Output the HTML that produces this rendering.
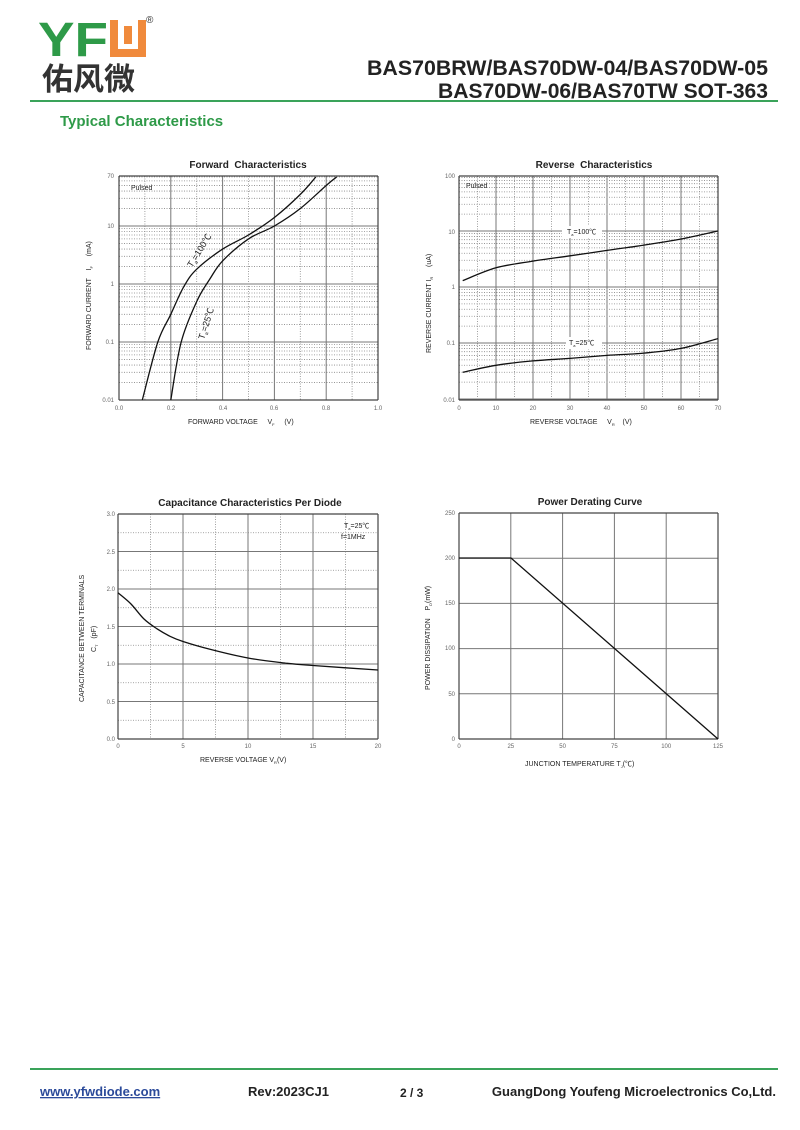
<!DOCTYPE html>
<html><head><meta charset="utf-8"><style>
body{margin:0;background:#fff;}
svg{display:block;font-family:"Liberation Sans","Noto Sans CJK SC",sans-serif;}
svg text{white-space:pre;}
</style></head><body>
<svg id="s" width="800" height="1130" viewBox="0 0 800 1130" xmlns="http://www.w3.org/2000/svg">
<!-- header -->
<text x="38" y="56" font-size="48" font-weight="bold" fill="#2e9a48" textLength="70" lengthAdjust="spacingAndGlyphs">YF</text>
<rect x="110" y="20" width="36" height="37" fill="#f08a3c"/>
<rect x="118" y="20" width="20" height="29" fill="#fff"/>
<rect x="124" y="26" width="8" height="18" fill="#f08a3c"/>
<text x="146" y="23" font-size="10" fill="#333">®</text>
<text x="42" y="90" font-size="31" font-weight="bold" fill="#333" font-family="Noto Sans CJK SC,sans-serif">佑风微</text>
<text x="768" y="75" font-size="21" font-weight="bold" text-anchor="end" fill="#222" textLength="401" lengthAdjust="spacingAndGlyphs">BAS70BRW/BAS70DW-04/BAS70DW-05</text>
<text x="768" y="98" font-size="21" font-weight="bold" text-anchor="end" fill="#222" textLength="330" lengthAdjust="spacingAndGlyphs">BAS70DW-06/BAS70TW SOT-363</text>
<rect x="30" y="100" width="748" height="2" fill="#3aa35a"/>
<text x="60" y="126" font-size="15" font-weight="bold" fill="#2e9a48">Typical Characteristics</text>
<!-- footer -->
<rect x="30" y="1068" width="748" height="2" fill="#3aa35a"/>
<text x="40" y="1096" font-size="13" font-weight="bold" fill="#2b4a9a" text-decoration="underline">www.yfwdiode.com</text>
<text x="248" y="1096" font-size="13" font-weight="bold" fill="#222">Rev:2023CJ1</text>
<text x="400" y="1097" font-size="12" font-weight="bold" fill="#222">2 / 3</text>
<text x="776" y="1096" font-size="13" font-weight="bold" fill="#222" text-anchor="end">GuangDong Youfeng Microelectronics Co,Ltd.</text>
<g id="g"></g>
<!-- titles -->
<g font-weight="bold" font-size="10" fill="#222" text-anchor="middle">
<text x="248" y="168">Forward  Characteristics</text>
<text x="594" y="168">Reverse  Characteristics</text>
<text x="250" y="506">Capacitance Characteristics Per Diode</text>
<text x="590" y="505">Power Derating Curve</text>
</g>
<g font-size="7" fill="#222">
<text x="188" y="424">FORWARD VOLTAGE     V<tspan font-size="4" dy="2">F</tspan><tspan dy="-2">     (V)</tspan></text>
<text x="530" y="424">REVERSE VOLTAGE     V<tspan font-size="4" dy="2">R</tspan><tspan dy="-2">    (V)</tspan></text>
<text x="200" y="762">REVERSE VOLTAGE V<tspan font-size="4" dy="2">R</tspan><tspan dy="-2">(V)</tspan></text>
<text x="525" y="766">JUNCTION TEMPERATURE T<tspan font-size="4" dy="2">J</tspan><tspan dy="-2">(℃)</tspan></text>
<text transform="translate(91,350) rotate(-90)">FORWARD CURRENT    I<tspan font-size="4" dy="2">F</tspan><tspan dy="-2">     (mA)</tspan></text>
<text transform="translate(431,353) rotate(-90)">REVERSE CURRENT I<tspan font-size="4" dy="2">R</tspan><tspan dy="-2">     (uA)</tspan></text>
<text transform="translate(84,702) rotate(-90)">CAPACITANCE BETWEEN TERMINALS</text>
<text transform="translate(96,652) rotate(-90)">C<tspan font-size="4" dy="2">T</tspan><tspan dy="-2">   (pF)</tspan></text>
<text transform="translate(430,690) rotate(-90)">POWER DISSIPATION    P<tspan font-size="4" dy="2">D</tspan><tspan dy="-2">(mW)</tspan></text>
<text x="131" y="190">Pulsed</text>
<text x="466" y="188">Pulsed</text>
<text x="344" y="528">T<tspan font-size="4" dy="2">a</tspan><tspan dy="-2">=25℃</tspan></text>
<text x="341" y="539">f=1MHz</text>
</g>
<g font-size="6" fill="#666">
<text x="114" y="178" text-anchor="end">70</text><text x="114" y="228" text-anchor="end">10</text><text x="114" y="286" text-anchor="end">1</text><text x="114" y="344" text-anchor="end">0.1</text><text x="114" y="402" text-anchor="end">0.01</text>
<text x="119" y="410" text-anchor="middle">0.0</text><text x="171" y="410" text-anchor="middle">0.2</text><text x="223" y="410" text-anchor="middle">0.4</text><text x="274" y="410" text-anchor="middle">0.6</text><text x="326" y="410" text-anchor="middle">0.8</text><text x="378" y="410" text-anchor="middle">1.0</text>
<text x="455" y="178" text-anchor="end">100</text><text x="455" y="234" text-anchor="end">10</text><text x="455" y="289" text-anchor="end">1</text><text x="455" y="345" text-anchor="end">0.1</text><text x="455" y="402" text-anchor="end">0.01</text>
<text x="115" y="516" text-anchor="end">3.0</text><text x="115" y="554" text-anchor="end">2.5</text><text x="115" y="591" text-anchor="end">2.0</text><text x="115" y="629" text-anchor="end">1.5</text><text x="115" y="666" text-anchor="end">1.0</text><text x="115" y="704" text-anchor="end">0.5</text><text x="115" y="741" text-anchor="end">0.0</text>
<text x="455" y="515" text-anchor="end">250</text><text x="455" y="560" text-anchor="end">200</text><text x="455" y="605" text-anchor="end">150</text><text x="455" y="650" text-anchor="end">100</text><text x="455" y="696" text-anchor="end">50</text><text x="455" y="741" text-anchor="end">0</text>
</g>
<g font-size="6" fill="#666" text-anchor="middle" id="xl"></g>
<!-- curves -->
<g fill="none" stroke="#111" stroke-width="1.3">
<path id="f1"/><path id="f2"/>
<path id="r1"/><path id="r2"/><path id="c1"/>
<path d="M459,558 L511,558 L718,739"/>
</g>
<rect x="562" y="226" width="40" height="12" fill="#fff"/>
<rect x="566" y="337" width="36" height="12" fill="#fff"/>
<g font-size="7" fill="#222">
<text x="567" y="234">T<tspan font-size="4" dy="2">a</tspan><tspan dy="-2">=100℃</tspan></text>
<text x="569" y="345">T<tspan font-size="4" dy="2">a</tspan><tspan dy="-2">=25℃</tspan></text>
<text transform="translate(192,268) rotate(-58)" font-size="9">T<tspan font-size="5" dy="2">a</tspan><tspan dy="-2">=100℃</tspan></text>
<text transform="translate(204,340) rotate(-72)" font-size="9">T<tspan font-size="5" dy="2">a</tspan><tspan dy="-2">=25℃</tspan></text>
</g>
</svg>
<script>
var NS="http://www.w3.org/2000/svg",g=document.getElementById('g');
function L(x1,y1,x2,y2,dot,w,c){var l=document.createElementNS(NS,'line');l.setAttribute('x1',x1);l.setAttribute('y1',y1);l.setAttribute('x2',x2);l.setAttribute('y2',y2);l.setAttribute('stroke',c||(dot?'#888':'#777'));l.setAttribute('stroke-width',w||(dot?0.8:1));if(dot)l.setAttribute('stroke-dasharray','1,1.5');g.appendChild(l);}
function box(x0,y0,x1,y1){L(x0,y0,x1,y0,0,1.2,'#444');L(x0,y1,x1,y1,0,1.2,'#444');L(x0,y0,x0,y1,0,1.2,'#444');L(x1,y0,x1,y1,0,1.2,'#444');}
for(var i=1;i<10;i++){var x=119+i*25.9;L(x,176,x,400,i%2==1);}
for(var d=-2;d<2;d++)for(var k=1;k<10;k++){var y=284-(d+Math.log10(k))*58;if(y<176)continue;L(119,y,378,y,k!=1);}
box(119,176,378,400);
for(var i=1;i<14;i++){var x=459+i*18.5;L(x,176,x,400,i%2==1);}
for(var d=-2;d<2;d++)for(var k=1;k<10;k++){var y=287-(d+Math.log10(k))*56;L(459,y,718,y,k!=1);}
box(459,176,718,400);
for(var i=1;i<8;i++){var x=118+i*32.5;L(x,514,x,739,i%2==1);}
for(var i=1;i<12;i++){var y=739-i*18.75;L(118,y,378,y,i%2==1);}
box(118,514,378,739);
for(var i=1;i<5;i++){var x=459+i*51.8;L(x,513,x,739);}
for(var i=1;i<5;i++){var y=739-i*45.2;L(459,y,718,y);}
box(459,513,718,739);
var xl=document.getElementById('xl'),h='';
[0,10,20,30,40,50,60,70].forEach(function(v){h+='<text x="'+(459+v*3.7)+'" y="410">'+v+'</text>';});
[0,5,10,15,20].forEach(function(v){h+='<text x="'+(118+v*13)+'" y="748">'+v+'</text>';});
[0,25,50,75,100,125].forEach(function(v){h+='<text x="'+(459+v*2.072)+'" y="748">'+v+'</text>';});
xl.innerHTML=h;
function P(id,pts,fx,fy){var q=pts.map(function(p){return [fx(p[0]),fy(p[1])];});
 var d='M'+q[0][0].toFixed(1)+','+q[0][1].toFixed(1);
 for(var i=0;i<q.length-1;i++){var p0=q[i-1]||q[i],p1=q[i],p2=q[i+1],p3=q[i+2]||q[i+1];
  var c1=[p1[0]+(p2[0]-p0[0])/6,p1[1]+(p2[1]-p0[1])/6],c2=[p2[0]-(p3[0]-p1[0])/6,p2[1]-(p3[1]-p1[1])/6];
  d+=' C'+c1[0].toFixed(1)+','+c1[1].toFixed(1)+' '+c2[0].toFixed(1)+','+c2[1].toFixed(1)+' '+p2[0].toFixed(1)+','+p2[1].toFixed(1);}
 document.getElementById(id).setAttribute('d',d);}
var fx=function(v){return 119+v*259},fy=function(i){return 284-Math.log10(i)*58};
P('f1',[[0.09,0.01],[0.15,0.1],[0.2,0.3],[0.25,0.9],[0.3,1.8],[0.4,4],[0.5,7],[0.6,14],[0.7,35],[0.76,70]],fx,fy);
P('f2',[[0.2,0.01],[0.24,0.1],[0.3,0.5],[0.35,1.2],[0.4,2.5],[0.5,6],[0.6,10],[0.7,20],[0.8,50],[0.84,70]],fx,fy);
var rx=function(v){return 459+v*3.7},ry=function(i){return 287-Math.log10(i)*56};
P('r1',[[1,1.3],[10,2.2],[20,2.9],[30,3.6],[40,4.5],[50,5.6],[60,7.2],[70,10]],rx,ry);
P('r2',[[1,0.03],[10,0.04],[20,0.048],[30,0.053],[40,0.06],[50,0.066],[60,0.08],[70,0.12]],rx,ry);
P('c1',[[0,1.95],[1,1.8],[2,1.6],[3,1.47],[4,1.37],[5,1.3],[7,1.2],[10,1.08],[13,1.01],[15,0.98],[20,0.92]],function(v){return 118+v*13},function(c){return 739-c*75});
</script>
</body></html>
